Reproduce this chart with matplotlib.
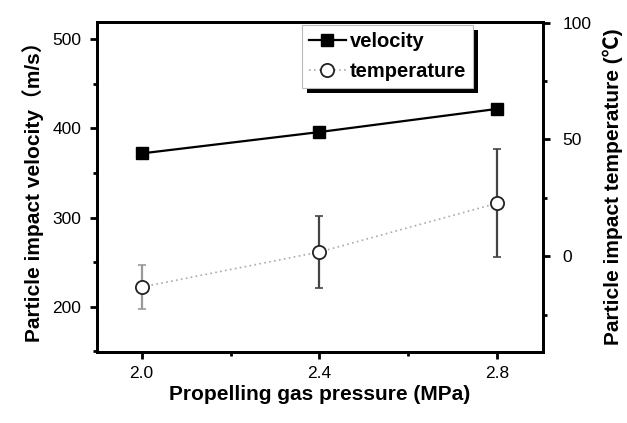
import matplotlib
matplotlib.use("Agg")
import matplotlib.pyplot as plt
from matplotlib.ticker import MultipleLocator
from matplotlib.patches import Rectangle
from matplotlib.transforms import IdentityTransform

plt.rcParams['font.family'] = ['Liberation Sans', 'Noto Sans CJK SC', 'DejaVu Sans']

pressure = [2.0, 2.4, 2.8]
velocity = [372, 396, 422]
temperature = [-13.2, 1.8, 22.7]
temp_err = [9.3, 15.4, 23.0]
x_ticks = [2.0, 2.4, 2.8]
x_labels = ['2.0', '2.4', '2.8']

fig = plt.figure(figsize=(6.27, 4.23), dpi=100)
ax = fig.add_axes([0.1542, 0.168, 0.7114, 0.780])
ax2 = ax.twinx()

# velocity (left axis)
lv, = ax.plot(pressure, velocity, color='black', lw=1.6, marker='s', ms=9,
              markerfacecolor='black', label='velocity', zorder=3)

# temperature with error bars (right axis)
ecols = ['#999999', '#444444', '#444444']
for x, t, e, c in zip(pressure, temperature, temp_err, ecols):
    ax2.errorbar(x, t, yerr=e, fmt='none', ecolor=c, elinewidth=1.6, capsize=3, capthick=1.2)
lt, = ax2.plot(pressure, temperature, color='#aaaaaa', lw=1.2, ls=(0, (1, 2)), marker='o', ms=9.5,
               markerfacecolor='white', markeredgecolor='#222222', markeredgewidth=1.3,
               label='temperature', zorder=4)

ax.set_xlim(1.899, 2.902)
ax.set_ylim(149.2, 519.5)
ax2.set_ylim(-41, 100.3)

ax.set_xticks(x_ticks)
ax.set_xticklabels(x_labels)
ax.xaxis.set_minor_locator(MultipleLocator(0.2))
ax.yaxis.set_major_locator(MultipleLocator(100))
ax.yaxis.set_minor_locator(MultipleLocator(50))
ax2.yaxis.set_major_locator(MultipleLocator(50))
ax2.yaxis.set_minor_locator(MultipleLocator(25))

for a in (ax, ax2):
    for s in a.spines.values():
        s.set_linewidth(2)
    a.tick_params(which='major', direction='out', length=5, width=2, labelsize=12.5)
    a.tick_params(which='minor', direction='out', length=3, width=2)
ax.tick_params(axis='x', pad=5)
ax.tick_params(axis='y', pad=6)
ax2.tick_params(axis='y', pad=9)

ax.set_xlabel('Propelling gas pressure (MPa)', fontsize=15, fontweight='bold', labelpad=3)
ax.set_ylabel('Particle impact velocity（m/s）', fontsize=15, fontweight='bold', labelpad=6)
ax2.set_ylabel('Particle impact temperature (℃)', fontsize=15, fontweight='bold', labelpad=8)

leg = ax2.legend(handles=[lv, lt], loc='upper left', bbox_to_anchor=(0.4596, 0.991),
                 prop={'weight': 'bold', 'size': 14.5}, frameon=True, fancybox=False,
                 framealpha=1, shadow=False, borderpad=0.35, handlelength=1.85,
                 handletextpad=0.2, labelspacing=0.55, borderaxespad=0)
leg.get_frame().set_edgecolor('#bbbbbb')
leg.get_frame().set_linewidth(0.8)
leg.set_zorder(10)

# thick black drop shadow behind the legend box
fig.canvas.draw()
bb = leg.get_window_extent()
shadow = Rectangle((bb.x0 + 5, bb.y0 - 5), bb.width, bb.height, transform=IdentityTransform(),
                   facecolor='black', edgecolor='none', zorder=9.5, clip_on=False)
ax2.add_artist(shadow)

fig.savefig('out.png', dpi=100)
